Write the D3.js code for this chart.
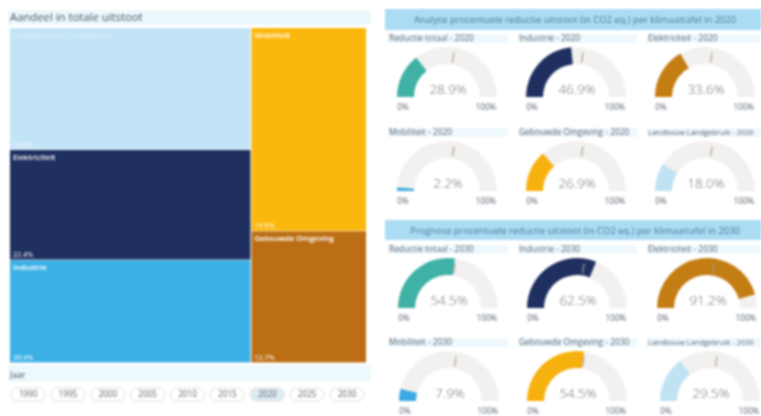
<!DOCTYPE html>
<html><head><meta charset="utf-8">
<script src="https://cdn.jsdelivr.net/npm/d3@7"></script>
<style>html,body{margin:0;padding:0;background:#fff;overflow:hidden}
svg{display:block;filter:blur(.8px);font-family:"Open Sans",sans-serif}</style></head>
<body><svg id="c" width="761" height="416"></svg>
<script>
const sectors=["Landbouw en Landgebruik","Elektriciteit","Industrie","Mobiliteit","Gebouwde Omgeving"];
const shares=[24.8,22.4,20.9,19.6,12.7];
const shareLabels=["24.8%","22.4%","20.9%","19.6%","12.7%"];
const columns=[0,0,0,1,1];
const sectorColors=["#c3e4f7","#1f2f5f","#3bb0e6","#fbb70c","#bb6e14"];
const years=["1990","1995","2000","2005","2010","2015","2020","2025","2030"];
const selectedYear="2020";
const gaugeNames=["Reductie totaal","Industrie","Elektriciteit","Mobiliteit","Gebouwde Omgeving","Landbouw Landgebruik"];
const gaugeTitleSizes=[8.4,8.4,8.4,8.4,8.4,7.5];
const gaugeColors=["#3fb1a5","#1f2f60","#c47d12","#3ba9e2","#f6b10e","#bfe3f3"];
const values2020=[28.9,46.9,33.6,2.2,26.9,18.0];
const values2030=[54.5,62.5,91.2,7.9,54.5,29.5];
const target=55;
const header2020="Analyse procentuele reductie uitstoot (in CO2 eq.) per klimaattafel in 2020";
const header2030="Prognose procentuele reductie uitstoot (in CO2 eq.) per klimaattafel in 2030";

const svg=d3.select("#c");
const ink="#5b6470";
function bar(x,y,w,h,fill){svg.append("rect").attr("x",x).attr("y",y).attr("width",w).attr("height",h).attr("fill",fill);}
function txt(x,y,s,size,fill,anchor,weight){return svg.append("text").attr("x",x).attr("y",y).attr("font-size",size).attr("fill",fill).attr("text-anchor",anchor||"start").attr("font-weight",weight||400).text(s);}
bar(8,10,363,15,"#edf8fd");
txt(10,21,"Aandeel in totale uitstoot",11.3,"#48525e");
// treemap
const rootData={children:[0,1].map(c=>({children:sectors.map((n,i)=>({n,i,value:shares[i],c:columns[i]})).filter(d=>d.c===c)}))};
const root=d3.hierarchy(rootData).sum(d=>d.value||0);
d3.treemap().size([356,335]).tile((n,a,b,c,d)=>(n.depth===0?d3.treemapDice:d3.treemapSlice)(n,a,b,c,d))(root);
const cells=svg.append("g").attr("transform","translate(10,28)").selectAll("g").data(root.leaves()).join("g").attr("transform",d=>`translate(${d.x0},${d.y0})`);
cells.append("rect").attr("width",d=>d.x1-d.x0-(d.data.c===0?1:0)).attr("height",d=>d.y1-d.y0-.6).attr("fill",d=>sectorColors[d.data.i]);
cells.append("text").attr("x",3).attr("y",10).attr("font-size",7.7).attr("font-weight",600).attr("fill",d=>d.data.i===0?"#d5ebf8":"#fff").text(d=>d.data.n);
cells.append("text").attr("x",3).attr("y",d=>d.y1-d.y0-3).attr("font-size",7.2).attr("fill",d=>d.data.i===0?"#eef8fd":"#fff").text(d=>shareLabels[d.data.i]);
// slicer
bar(8,365,363,17,"#eef9fd");
txt(10,378,"Jaar",8.5,"#48525e");
const pill=d3.scalePoint().domain(years).range([28,347]);
const pills=svg.append("g").selectAll("g").data(years).join("g").attr("transform",d=>`translate(${pill(d)},394.5)`);
pills.append("rect").attr("x",-17).attr("y",-6.5).attr("width",34).attr("height",13).attr("rx",6.5).attr("fill",d=>d===selectedYear?"#dcecf5":"#fff").attr("stroke","#e8dcd2").attr("stroke-width",1);
pills.append("text").attr("text-anchor","middle").attr("y",2.8).attr("font-size",8.2).attr("fill",ink).text(d=>d);
// section headers
bar(385,9,376,21,"#aadcf3");
txt(575,23,header2020,9.4,"#4f7a99","middle");
bar(385,220,376,20,"#aadcf3");
txt(575,233.5,header2030,9.4,"#4f7a99","middle");
// gauges
const angle=d3.scaleLinear().domain([0,100]).range([-Math.PI/2,Math.PI/2]);
const arc=d3.arc().innerRadius(33).outerRadius(50);
const titleBars=[[388,120],[518,119],[647,114]];
function gauge(cx,cy,name,year,v,color,tx,tw,ty,size){
  bar(tx,ty-7,tw,9,"#eef8fd");
  txt(tx+1,ty,name+" - "+year,size,ink);
  const g=svg.append("g").attr("transform",`translate(${cx},${cy})`);
  g.append("path").attr("d",arc({startAngle:angle(0),endAngle:angle(100)})).attr("fill","#f2f1ef");
  g.append("path").attr("d",arc({startAngle:angle(0),endAngle:angle(v)})).attr("fill",color);
  const a=angle(target);
  g.append("line").attr("x1",Math.sin(a)*35).attr("y1",-Math.cos(a)*35).attr("x2",Math.sin(a)*45).attr("y2",-Math.cos(a)*45).attr("stroke","#a89f97").attr("stroke-width",1.2);
  g.append("text").attr("x",1).attr("y",-3).attr("text-anchor","middle").attr("font-size",13.5).attr("font-weight",300).attr("fill","#6c7178").text(d3.format(".1f")(v)+"%");
  g.append("text").attr("x",-44).attr("y",12.5).attr("text-anchor","middle").attr("font-size",8.2).attr("fill",ink).text("0%");
  g.append("text").attr("x",39).attr("y",12.5).attr("text-anchor","middle").attr("font-size",8.2).attr("fill",ink).text("100%");
}
const rows=[
 {cy:97,ty:41,xs:[447,576,705],vals:values2020,year:"2020",offset:0},
 {cy:191,ty:135,xs:[447,576,705],vals:values2020,year:"2020",offset:3},
 {cy:308,ty:252,xs:[448,577,707],vals:values2030,year:"2030",offset:0},
 {cy:401,ty:345,xs:[449,577,710],vals:values2030,year:"2030",offset:3}];
rows.forEach(r=>r.xs.forEach((cx,i)=>{
  const k=r.offset+i;
  gauge(cx,r.cy,gaugeNames[k],r.year,r.vals[k],gaugeColors[k],titleBars[i][0],titleBars[i][1],r.ty,gaugeTitleSizes[k]);
}));
</script></body></html>
